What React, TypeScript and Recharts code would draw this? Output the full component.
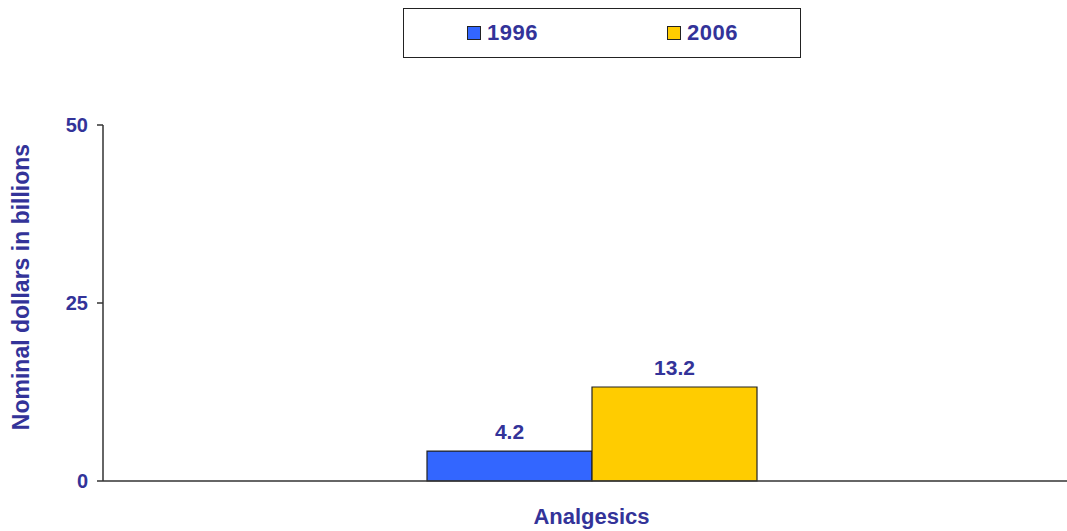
import { BarChart, Bar, XAxis, YAxis, LabelList } from "recharts";

const CATEGORIES = ["Analgesics"];
const VALUES_1996 = [4.2];
const VALUES_2006 = [13.2];
const Y_TICKS = [0, 25, 50];
const SERIES = [
  { key: "y1996", name: "1996", color: "#3366FF" },
  { key: "y2006", name: "2006", color: "#FFCC00" },
];

const TEXT = "#333399";
const FONT = "'Liberation Sans', Arial, sans-serif";

const data = CATEGORIES.map((c, i) => ({ name: c, y1996: VALUES_1996[i], y2006: VALUES_2006[i] }));

function LegendBox() {
  return (
    <div
      style={{
        position: "absolute",
        left: 403,
        top: 8,
        width: 398,
        height: 50,
        border: "1.5px solid #222",
        background: "#fff",
        boxSizing: "border-box",
        fontFamily: FONT,
        fontWeight: "bold",
        fontSize: 22,
        color: TEXT,
      }}
    >
      {SERIES.map((s, i) => (
        <div
          key={s.key}
          style={{ position: "absolute", left: 63 + i * 200, top: 11, display: "flex", alignItems: "center" }}
        >
          <span
            style={{
              display: "inline-block",
              width: 12,
              height: 12,
              background: s.color,
              border: "1.5px solid #222",
              marginRight: 6,
            }}
          />
          <span style={{ letterSpacing: 0.5 }}>{s.name}</span>
        </div>
      ))}
    </div>
  );
}

export default function App() {
  return (
    <div style={{ position: "absolute", left: 0, top: 0, width: 1067, height: 531, overflow: "hidden", background: "#fff" }}>
      <BarChart
        width={1080}
        height={531}
        data={data}
        margin={{ top: 125, right: 0, left: 0, bottom: 20 }}
        barCategoryGap={324}
        barGap={0}
      >
        <XAxis
          dataKey="name"
          height={30}
          tickLine={false}
          axisLine={{ stroke: "#333", strokeWidth: 1.5 }}
          tick={{ fill: TEXT, fontSize: 22, fontWeight: "bold", fontFamily: FONT }}
          dy={19}
        />
        <YAxis
          width={103}
          domain={[0, 50]}
          ticks={Y_TICKS}
          tickSize={6}
          tickMargin={9}
          axisLine={{ stroke: "#333", strokeWidth: 1.5 }}
          tickLine={{ stroke: "#333", strokeWidth: 1.5 }}
          tick={{ fill: TEXT, fontSize: 20, fontWeight: "bold", fontFamily: FONT }}
          label={{
            value: "Nominal dollars in billions",
            angle: -90,
            position: "insideLeft",
            dx: 16,
            dy: -16,
            style: { fill: TEXT, fontSize: 23, fontWeight: "bold", fontFamily: FONT, textAnchor: "middle" },
          }}
        />
        {SERIES.map((s) => (
          <Bar key={s.key} dataKey={s.key} name={s.name} fill={s.color} stroke="#222" strokeWidth={1.2} isAnimationActive={false}>
            <LabelList
              dataKey={s.key}
              position="top"
              offset={12}
              style={{ fill: TEXT, fontSize: 21, fontWeight: "bold", fontFamily: FONT }}
            />
          </Bar>
        ))}
      </BarChart>
      <LegendBox />
    </div>
  );
}
